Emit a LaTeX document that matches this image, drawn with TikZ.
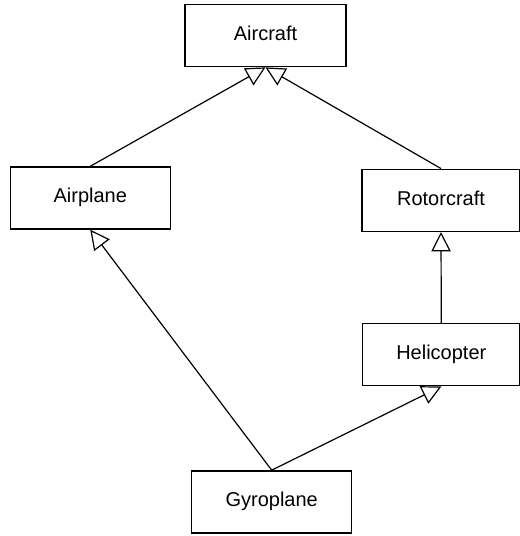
\documentclass[tikz,border=0pt]{standalone}
\usepackage{fontspec}
\setmainfont{Liberation Sans}
\usetikzlibrary{arrows.meta}
\begin{document}
\begin{tikzpicture}[x=0.75pt,y=-0.75pt,
  classbox/.style={draw, line width=1.1pt, inner sep=0pt,
    minimum width=120pt, minimum height=46.5pt,
    font=\fontsize{15}{18}\selectfont, text height=0.716em, text depth=0pt},
  inherits/.style={line width=0.9pt,
    -{Triangle[open, length=14.5pt, width=14.5pt, line width=0.9pt]}}]
  \useasboundingbox (0,0) rectangle (520,536);

  % class hierarchy
  \node[classbox, minimum width=120.75pt] (aircraft) at (265.5,35.6) {Aircraft};
  \node[classbox] (airplane) at (90.3,198) {Airplane};
  \node[classbox, minimum width=118.5pt] (rotorcraft) at (441,200.3) {Rotorcraft};
  \node[classbox, minimum width=118pt] (helicopter) at (441.3,354.7) {Helicopter};
  \node[classbox] (gyroplane) at (271.7,501.9) {Gyroplane};

  % generalisation links
  \draw[inherits] (airplane.north) -- (aircraft.south);
  \draw[inherits] (rotorcraft.north) -- (aircraft.south);
  \draw[inherits] (helicopter.north) -- (rotorcraft.south);
  \draw[inherits] (gyroplane.north) -- (airplane.south);
  \draw[inherits] (gyroplane.north) -- (helicopter.south);
\end{tikzpicture}
\end{document}
